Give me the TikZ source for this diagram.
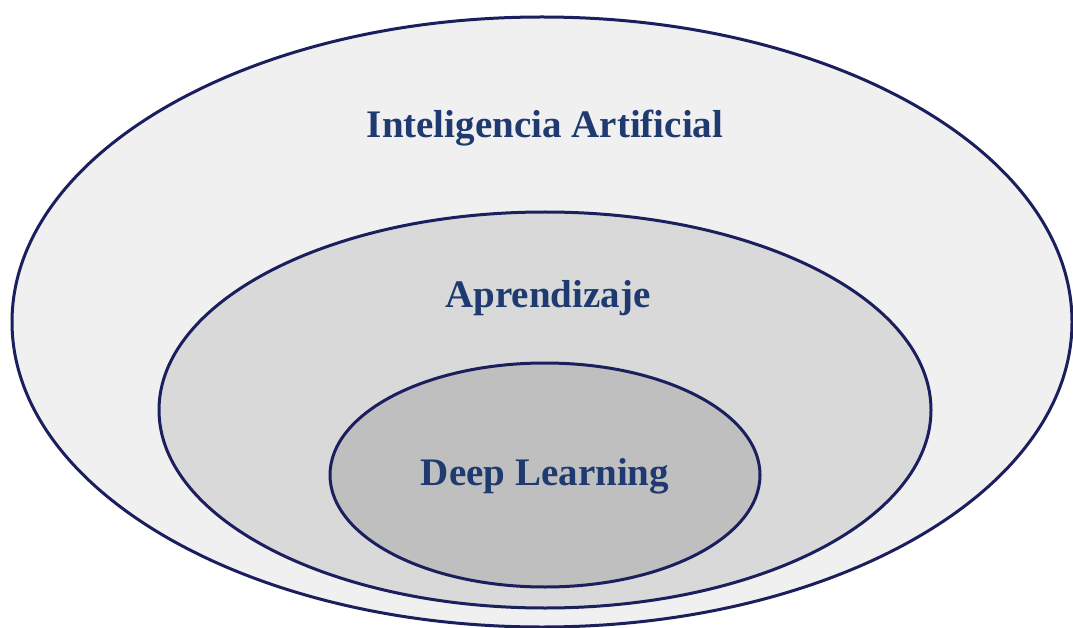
\documentclass[tikz,border=0pt]{standalone}
\usepackage{fontspec}
\setmainfont{Liberation Serif}
\definecolor{rim}{HTML}{1B1F5E}
\definecolor{labelblue}{HTML}{1F3A70}
\definecolor{fillA}{HTML}{F0F0F0}
\definecolor{fillB}{HTML}{D9D9D9}
\definecolor{fillC}{HTML}{BFBFBF}
\tikzset{
  ring/.style={draw=rim, line width=3pt},
  caption/.style={text=labelblue, font=\bfseries\fontsize{39}{45}\selectfont, anchor=base, inner sep=0pt}
}
\begin{document}
\begin{tikzpicture}[x=1pt, y=-1pt]
\useasboundingbox (0,0) rectangle (1073,628);
\fill[white] (0,0) rectangle (1073,628);
% nested sets
\filldraw[ring, fill=fillA] (542,322) ellipse [x radius=530, y radius=305];
\filldraw[ring, fill=fillB] (545,410) ellipse [x radius=386, y radius=198];
\filldraw[ring, fill=fillC] (545,475) ellipse [x radius=215, y radius=112];
% labels
\node[caption] (ia) at (545,138) {Inteligencia Artificial};
\node[caption] (ml) at (548,307) {Aprendizaje};
\node[caption] (dl) at (545,485) {Deep Learning};
\end{tikzpicture}
\end{document}
